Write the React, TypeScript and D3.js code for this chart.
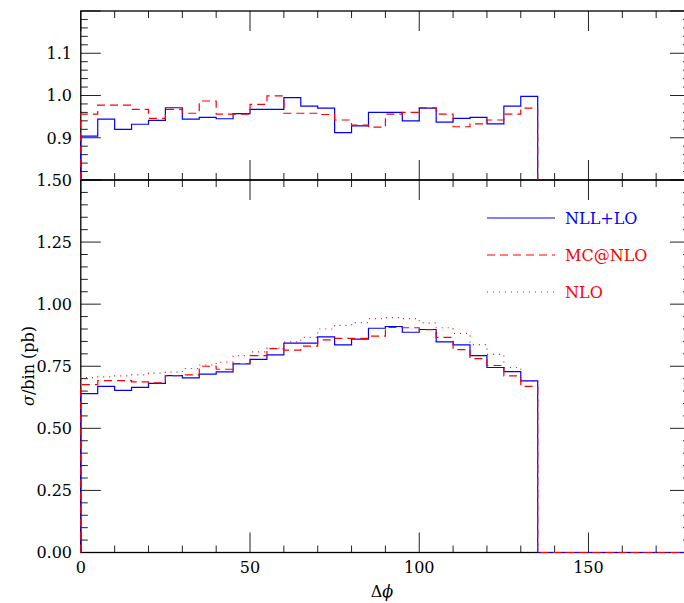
import React from 'react';
import * as d3 from 'd3';

// bin lower edges in degrees (width 5), histogram ends at 135
const binLow = [0, 5, 10, 15, 20, 25, 30, 35, 40, 45, 50, 55, 60, 65, 70, 75, 80, 85, 90, 95, 100, 105, 110, 115, 120, 125, 130];
const binWidth = 5;
const histEnd = 135;

// lower panel: sigma/bin (pb)
const nllLo = [0.640, 0.669, 0.653, 0.665, 0.681, 0.712, 0.703, 0.718, 0.727, 0.759, 0.778, 0.796, 0.843, 0.843, 0.868, 0.836, 0.859, 0.903, 0.910, 0.887, 0.898, 0.848, 0.836, 0.793, 0.745, 0.728, 0.691];
const mcAtNlo = [0.676, 0.692, 0.692, 0.687, 0.683, 0.712, 0.715, 0.750, 0.738, 0.761, 0.793, 0.821, 0.815, 0.831, 0.856, 0.862, 0.862, 0.871, 0.906, 0.905, 0.897, 0.866, 0.817, 0.781, 0.753, 0.711, 0.669];
const nlo = [0.704, 0.707, 0.711, 0.715, 0.722, 0.726, 0.741, 0.755, 0.767, 0.793, 0.808, 0.823, 0.848, 0.866, 0.900, 0.915, 0.926, 0.942, 0.946, 0.942, 0.925, 0.905, 0.882, 0.837, 0.798, 0.745, 0.691];

// upper panel: ratio to NLO
const ratioNll = [0.904, 0.944, 0.920, 0.932, 0.941, 0.971, 0.944, 0.948, 0.945, 0.957, 0.967, 0.967, 0.995, 0.975, 0.970, 0.912, 0.928, 0.960, 0.960, 0.940, 0.970, 0.937, 0.946, 0.948, 0.933, 0.975, 0.998];
const ratioMc = [0.956, 0.977, 0.977, 0.967, 0.946, 0.967, 0.958, 0.987, 0.956, 0.956, 0.979, 0.999, 0.958, 0.958, 0.955, 0.942, 0.930, 0.925, 0.956, 0.960, 0.971, 0.956, 0.926, 0.933, 0.942, 0.956, 0.970];

const xTicks = [0, 50, 100, 150];
const xMinor = [10, 20, 30, 40, 60, 70, 80, 90, 110, 120, 130, 140, 160, 170];
const lowTicks = ['0.00', '0.25', '0.50', '0.75', '1.00', '1.25', '1.50'];
const upTicks = ['0.9', '1.0', '1.1'];

const legendItems = [
  { label: 'NLL+LO', color: '#0000ff', dash: null },
  { label: 'MC@NLO', color: '#ff0000', dash: '8,5' },
  { label: 'NLO', color: '#ff0000', dash: '1,5' },
];

const font = 'DejaVu Serif';
const left = 80.8;
const right = 690;
const upTop = 11;
const mid = 180;
const bottom = 552.5;

const x = d3.scaleLinear().domain([0, 180]).range([left, right]);
const yLow = d3.scaleLinear().domain([0, 1.5]).range([bottom, mid]);
const yUp = d3.scaleLinear().domain([0.8, 1.2]).range([mid, upTop]);

function histPath(vals: number[], y: d3.ScaleLinear<number, number>, base: number, tail: boolean) {
  const pts: [number, number][] = [[0, base]];
  vals.forEach((v, i) => {
    pts.push([binLow[i], v]);
    pts.push([binLow[i] + binWidth, v]);
  });
  pts.push([histEnd, base]);
  if (tail) pts.push([180, base]);
  return d3.line<[number, number]>().x(d => x(d[0])).y(d => y(d[1]))(pts) || '';
}

function Frame({ y, top, bot, major, minor, labels }: any) {
  const tk: JSX.Element[] = [];
  const yMaj = d3.range(y.domain()[0], y.domain()[1] + 1e-9, major);
  const yMin = d3.range(y.domain()[0], y.domain()[1] + 1e-9, minor);
  yMin.forEach((v: number, i: number) => {
    const len = yMaj.some((m: number) => Math.abs(m - v) < 1e-9) ? 20 : 7;
    tk.push(<line key={'yl' + i} x1={left} x2={left + len} y1={y(v)} y2={y(v)} stroke="#222" strokeWidth={1} />);
    tk.push(<line key={'yr' + i} x1={right} x2={right - len} y1={y(v)} y2={y(v)} stroke="#222" strokeWidth={1} />);
  });
  xTicks.concat(xMinor).forEach((v, i) => {
    const len = xTicks.includes(v) ? 20 : 7;
    tk.push(<line key={'xb' + i} x1={x(v)} x2={x(v)} y1={bot} y2={bot - len} stroke="#222" strokeWidth={1} />);
    tk.push(<line key={'xt' + i} x1={x(v)} x2={x(v)} y1={top} y2={top + len} stroke="#222" strokeWidth={1} />);
  });
  return (
    <g>
      {tk}
      <rect x={left} y={top} width={right - left} height={bot - top} fill="none" stroke="#000" strokeWidth={1.3} />
      {labels.map((l: string) => (
        <text key={l} x={72} y={y(+l)} dy="0.36em" textAnchor="end" fontFamily={font} fontSize={16}>{l}</text>
      ))}
    </g>
  );
}

export default function App() {
  return (
    <svg width={684} height={603} style={{ position: 'absolute', left: 0, top: 0, background: '#fff' }}>
      <defs>
        <clipPath id="clipUp"><rect x={left - 1} y={upTop} width={right - left + 2} height={mid - upTop} /></clipPath>
        <clipPath id="clipLow"><rect x={left - 1} y={mid} width={right - left + 2} height={bottom - mid + 1} /></clipPath>
      </defs>
      <rect width={684} height={603} fill="#fff" />

      <Frame y={yUp} top={upTop} bot={mid} major={0.1} minor={0.02} labels={upTicks} />
      <Frame y={yLow} top={mid} bot={bottom} major={0.25} minor={0.05} labels={lowTicks} />

      <g clipPath="url(#clipUp)" fill="none" strokeWidth={1.2}>
        <path d={histPath(ratioNll, yUp, 0.8, false)} stroke="#0000ff" />
        <path d={histPath(ratioMc, yUp, 0.8, false)} stroke="#ff0000" strokeDasharray="8,5" />
      </g>
      <g clipPath="url(#clipLow)" fill="none" strokeWidth={1.2}>
        <path d={histPath(nllLo, yLow, 0, true)} stroke="#0000ff" />
        <path d={histPath(mcAtNlo, yLow, 0, true)} stroke="#ff0000" strokeDasharray="8,5" />
        <path d={histPath(nlo, yLow, 0, true)} stroke="#ff0000" strokeDasharray="1,5" />
      </g>

      {xTicks.map(v => (
        <text key={v} x={x(v)} y={573} textAnchor="middle" fontFamily={font} fontSize={16}>{v}</text>
      ))}
      <text x={382} y={597} textAnchor="middle" fontFamily={font} fontSize={16}>
        Δ<tspan fontStyle="italic">ϕ</tspan>
      </text>
      <text transform="translate(34,366) rotate(-90)" textAnchor="middle" fontFamily={font} fontSize={16}>
        <tspan fontStyle="italic">σ</tspan>/bin (pb)
      </text>

      {legendItems.map((d, i) => {
        const ly = 218 + i * 37;
        return (
          <g key={d.label}>
            <line x1={487} x2={555} y1={ly} y2={ly} stroke={d.color} strokeWidth={1.2} strokeDasharray={d.dash || undefined} />
            <text x={565} y={ly} dy="0.36em" fill={d.color} fontFamily={font} fontSize={16}>{d.label}</text>
          </g>
        );
      })}
    </svg>
  );
}
